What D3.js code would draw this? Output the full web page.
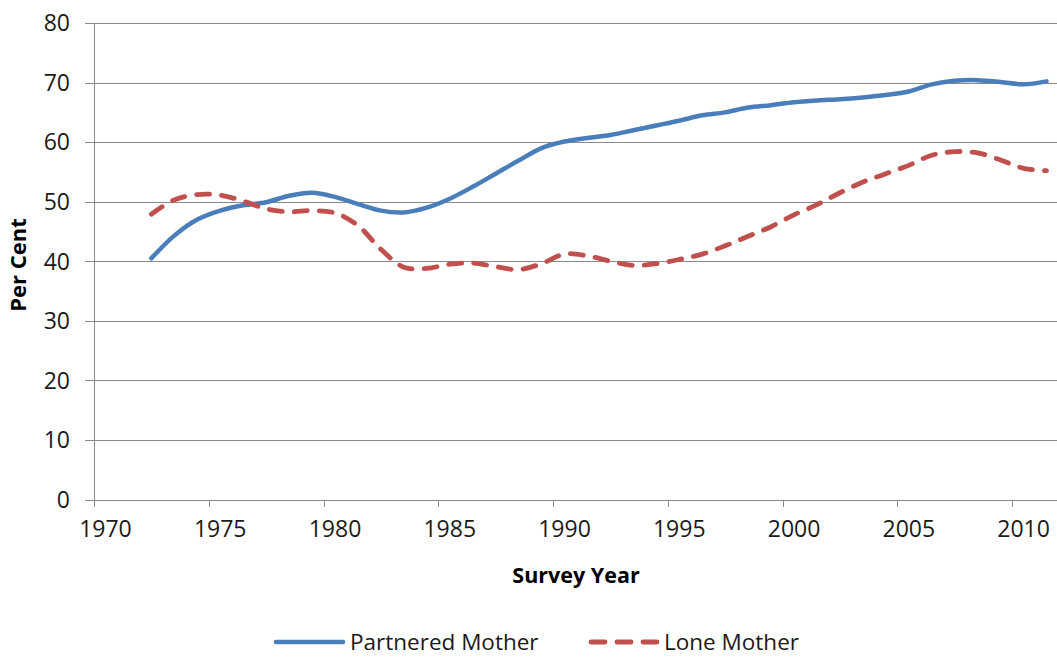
<!DOCTYPE html>
<html><head><meta charset="utf-8">
<script src="https://cdn.jsdelivr.net/npm/d3@7"></script>
<style>body{margin:0;background:#fff}svg{display:block}</style>
</head><body><svg id="c" width="1057" height="658"></svg>
<script>
const years = d3.range(1972, 2012);
const partnered = [40.5,44.3,47.0,48.5,49.4,49.9,51.0,51.5,50.8,49.6,48.5,48.2,49.0,50.5,52.5,54.7,56.9,59.0,60.1,60.7,61.2,62.0,62.8,63.6,64.5,65.0,65.8,66.2,66.7,67.0,67.2,67.5,67.9,68.5,69.7,70.3,70.4,70.1,69.7,70.2];
const lone = [47.9,50.3,51.2,51.1,50.1,48.8,48.3,48.5,48.1,46.0,42.0,39.0,38.8,39.5,39.7,39.1,38.6,39.6,41.2,40.9,40.0,39.3,39.6,40.3,41.2,42.6,44.2,45.8,47.8,49.5,51.5,53.3,54.7,56.1,57.8,58.4,58.2,57.0,55.6,55.2];
const yTicks = [0,10,20,30,40,50,60,70,80];
const xTickLabels = [1970,1975,1980,1985,1990,1995,2000,2005,2010];
const seriesNames = ["Partnered Mother","Lone Mother"];

const svg = d3.select("#c");
const x = d3.scaleLinear().domain([1969.5, 2011.5]).range([94, 1058]);
const y = d3.scaleLinear().domain([0, 80]).range([499.5, 23]);
const grid = "#898989";
const font = "'Open Sans', sans-serif";

svg.append("g").selectAll("line").data(yTicks).join("line")
  .attr("x1", 85).attr("x2", 1058)
  .attr("y1", d => Math.round(y(d)) + 0.5).attr("y2", d => Math.round(y(d)) + 0.5)
  .attr("stroke", grid).attr("stroke-width", 1);
svg.append("line").attr("x1", 94.5).attr("x2", 94.5).attr("y1", y(80)).attr("y2", y(0)+0.5)
  .attr("stroke", grid);
svg.append("g").selectAll("text").data(yTicks).join("text")
  .attr("x", 70).attr("y", d => y(d)).attr("dy", "0.36em")
  .attr("text-anchor", "end")
  .attr("font-family", font).attr("font-size", 23).attr("fill", "#1a1a1a")
  .text(d => d);
svg.append("g").selectAll("line").data(xTickLabels).join("line")
  .attr("x1", d => Math.round(x(d - 0.5)) + 0.5).attr("x2", d => Math.round(x(d - 0.5)) + 0.5)
  .attr("y1", 500).attr("y2", 507).attr("stroke", grid);
svg.append("g").selectAll("text").data(xTickLabels).join("text")
  .attr("x", d => x(d)).attr("y", 537)
  .attr("text-anchor", "middle")
  .attr("font-family", font).attr("font-size", 23).attr("fill", "#1a1a1a")
  .text(d => d);

svg.append("text").attr("x", 576).attr("y", 583).attr("text-anchor", "middle")
  .attr("font-family", font).attr("font-weight", "bold").attr("font-size", 21.5)
  .text("Survey Year");
svg.append("text").attr("transform", "translate(26,265) rotate(-90)").attr("text-anchor", "middle")
  .attr("font-family", font).attr("font-weight", "bold").attr("font-size", 22)
  .text("Per Cent");

const line = d3.line().x((d, i) => x(years[i])).y(d => y(d)).curve(d3.curveCatmullRom.alpha(0.5));
svg.append("path").datum(partnered).attr("d", line).attr("fill", "none")
  .attr("stroke", "#4a7ebb").attr("stroke-width", 4.5).attr("stroke-linecap", "round").attr("stroke-linejoin", "round");
svg.append("path").datum(lone).attr("d", line).attr("fill", "none")
  .attr("stroke", "#c0504d").attr("stroke-width", 4.8).attr("stroke-linecap", "round")
  .attr("stroke-dasharray", "13,12");

const legendY = 642;
const lg = svg.append("g");
lg.append("line").attr("x1", 276).attr("x2", 343).attr("y1", legendY).attr("y2", legendY)
  .attr("stroke", "#4a7ebb").attr("stroke-width", 4.5).attr("stroke-linecap", "round");
lg.append("text").attr("x", 350).attr("y", legendY).attr("dy", "0.36em")
  .attr("font-family", font).attr("font-size", 22.5).attr("fill", "#1a1a1a")
  .text(seriesNames[0]);
lg.append("line").attr("x1", 591).attr("x2", 657).attr("y1", legendY).attr("y2", legendY)
  .attr("stroke", "#c0504d").attr("stroke-width", 4.8).attr("stroke-linecap", "round")
  .attr("stroke-dasharray", "14,12");
lg.append("text").attr("x", 664).attr("y", legendY).attr("dy", "0.36em")
  .attr("font-family", font).attr("font-size", 22.5).attr("fill", "#1a1a1a")
  .text(seriesNames[1]);
</script></body></html>
